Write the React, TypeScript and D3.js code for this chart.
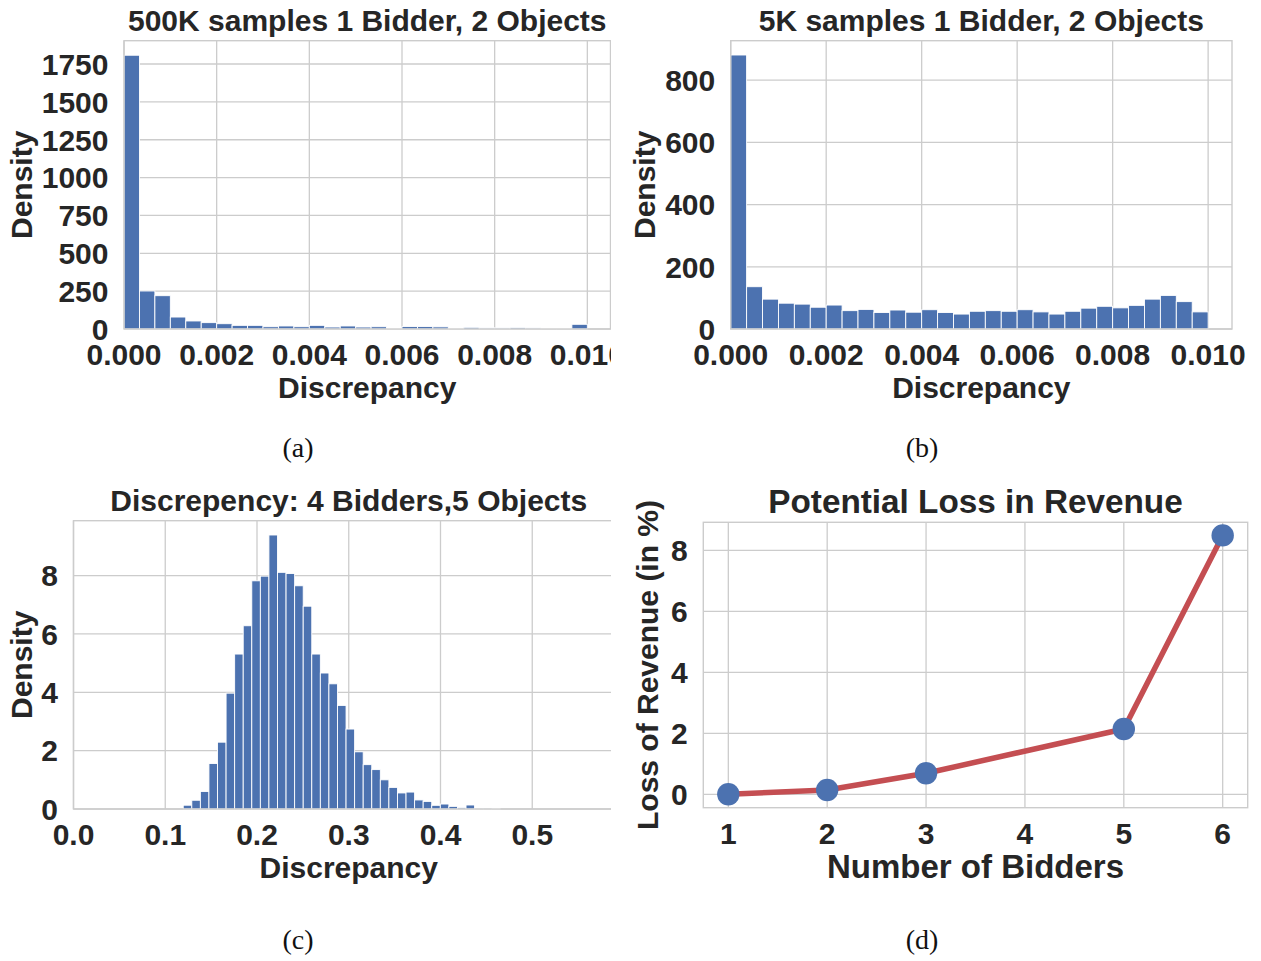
import React from "react";
import * as d3 from "d3";

// ---------- data ----------
// (a) 500K samples, 30 bins over [0, 0.01]
const histA: number[] = [1808, 251, 220, 79, 53, 42, 35, 24, 24, 15, 20, 15, 24, 13, 20, 13, 15, 6, 16, 16, 14, 5, 11, 7, 7, 9, 7, 4, 4, 31];
// (b) 5K samples, 30 bins over [0, 0.01]
const histB: number[] = [881, 136, 96, 83, 80, 70, 77, 59, 63, 53, 61, 54, 62, 53, 48, 57, 59, 57, 62, 55, 48, 57, 67, 73, 68, 76, 96, 108, 88, 55];
// (c) 4 bidders, 5 objects
const histC: number[] = [0.13, 0.3, 0.6, 1.56, 2.29, 3.97, 5.31, 6.28, 7.82, 7.98, 9.39, 8.11, 8.07, 7.65, 6.95, 5.31, 4.66, 4.29, 3.55, 2.74, 1.96, 1.52, 1.35, 1.0, 0.74, 0.55, 0.58, 0.31, 0.26, 0.126, 0.17, 0.09, 0.046, 0.137, 0.01, 0.006, 0.03];
const histABinStart = 0;
const histABinWidth = 0.01 / 30;
const histCBinStart = 0.1196;
const histCBinWidth = 0.00934;

// (d) potential loss in revenue
const bidders: number[] = [1, 2, 3, 5, 6];
const lossPct: number[] = [0.0, 0.14, 0.69, 2.14, 8.49];

const ticksA: number[] = [0, 250, 500, 750, 1000, 1250, 1500, 1750];
const ticksB: number[] = [0, 200, 400, 600, 800];
const ticksCy: number[] = [0, 2, 4, 6, 8];
const ticksDisc: number[] = [0, 0.002, 0.004, 0.006, 0.008, 0.01];
const ticksCx: number[] = [0, 0.1, 0.2, 0.3, 0.4, 0.5];
const ticksDx: number[] = [1, 2, 3, 4, 5, 6];
const ticksDy: number[] = [0, 2, 4, 6, 8];

// ---------- style ----------
const FONT = "'Liberation Sans', Arial, Helvetica, sans-serif";
const FS = 30;
const TXT = "#262626";
const GRID = "#cccccc";
const BAR = "#4C72B0";
const LINE = "#C44E52";

type PanelProps = {
  x0: number; x1: number; y0: number; y1: number;
  xDomain: [number, number]; yDomain: [number, number];
  xTicks: number[]; yTicks: number[];
  xFmt: (v: number) => string; yFmt: (v: number) => string;
  title: string; xLabel: string; yLabel: string; yLabelX: number;
  titleSize?: number; xLabelSize?: number; titleY?: number; xLabelY?: number;
  clipId?: string;
  children: (x: d3.ScaleLinear<number, number>, y: d3.ScaleLinear<number, number>) => React.ReactNode;
};

function Panel(p: PanelProps) {
  const x = d3.scaleLinear().domain(p.xDomain).range([p.x0, p.x1]);
  const y = d3.scaleLinear().domain(p.yDomain).range([p.y1, p.y0]);
  const cx = (p.x0 + p.x1) / 2;
  const cy = (p.y0 + p.y1) / 2;
  return (
    <g clipPath={p.clipId ? `url(#${p.clipId})` : undefined} fontFamily={FONT} fontWeight="bold" fill={TXT}>
      <rect x={p.x0} y={p.y0} width={p.x1 - p.x0} height={p.y1 - p.y0} fill="white" />
      {p.xTicks.map((t) => (
        <line key={"gx" + t} x1={x(t)} x2={x(t)} y1={p.y0} y2={p.y1} stroke={GRID} strokeWidth={1.3} />
      ))}
      {p.yTicks.map((t) => (
        <line key={"gy" + t} x1={p.x0} x2={p.x1} y1={y(t)} y2={y(t)} stroke={GRID} strokeWidth={1.3} />
      ))}
      {p.children(x, y)}
      <rect x={p.x0} y={p.y0} width={p.x1 - p.x0} height={p.y1 - p.y0} fill="none" stroke={GRID} strokeWidth={1.4} />
      {p.xTicks.map((t) => (
        <text key={"tx" + t} x={x(t)} y={p.y1 + 36} textAnchor="middle" fontSize={FS}>{p.xFmt(t)}</text>
      ))}
      {p.yTicks.map((t) => (
        <text key={"ty" + t} x={p.x0 - 15.5} y={y(t)} dy="0.36em" textAnchor="end" fontSize={FS}>{p.yFmt(t)}</text>
      ))}
      <text x={cx} y={p.titleY ?? p.y0 - 9.5} textAnchor="middle" fontSize={p.titleSize ?? FS}>{p.title}</text>
      <text x={cx} y={p.xLabelY ?? p.y1 + 69} textAnchor="middle" fontSize={p.xLabelSize ?? FS}>{p.xLabel}</text>
      <text transform={`translate(${p.yLabelX},${cy}) rotate(-90)`} textAnchor="middle" fontSize={FS}>{p.yLabel}</text>
    </g>
  );
}

function Bars(props: { vals: number[]; start: number; width: number; x: d3.ScaleLinear<number, number>; y: d3.ScaleLinear<number, number> }) {
  const { vals, start, width, x, y } = props;
  return (
    <g>
      {vals.map((v, i) => {
        const a = x(start + i * width);
        const b = x(start + (i + 1) * width);
        return (
          <rect key={i} x={a} y={y(v)} width={b - a} height={y(0) - y(v)} fill={BAR} stroke="white" strokeWidth={0.9} />
        );
      })}
    </g>
  );
}

const f3 = d3.format(".3f");
const f1 = d3.format(".1f");
const f0 = d3.format("d");

export default function App() {
  const line = d3.line<number>();
  return (
    <svg width={1261} height={961} style={{ position: "absolute", left: 0, top: 0, background: "white" }}>
      <defs>
        <clipPath id="clipLeft">
          <rect x={0} y={0} width={611} height={961} />
        </clipPath>
      </defs>
      <rect x={0} y={0} width={1261} height={961} fill="white" />

      <Panel x0={124} x1={610.5} y0={40.7} y1={329} xDomain={[0, 0.0105]} yDomain={[0, 1904]}
        xTicks={ticksDisc} yTicks={ticksA} xFmt={f3} yFmt={f0}
        title="500K samples 1 Bidder, 2 Objects" xLabel="Discrepancy" yLabel="Density" yLabelX={31.5} clipId="clipLeft">
        {(x, y) => <Bars vals={histA} start={histABinStart} width={histABinWidth} x={x} y={y} />}
      </Panel>

      <Panel x0={730.7} x1={1232} y0={40.7} y1={329} xDomain={[0, 0.0105]} yDomain={[0, 927]}
        xTicks={ticksDisc} yTicks={ticksB} xFmt={f3} yFmt={f0}
        title="5K samples 1 Bidder, 2 Objects" xLabel="Discrepancy" yLabel="Density" yLabelX={655}>
        {(x, y) => <Bars vals={histB} start={histABinStart} width={histABinWidth} x={x} y={y} />}
      </Panel>

      <Panel x0={73.5} x1={624} y0={520.7} y1={809} xDomain={[0, 0.6]} yDomain={[0, 9.88]}
        xTicks={ticksCx} yTicks={ticksCy} xFmt={f1} yFmt={f0}
        title="Discrepency: 4 Bidders,5 Objects" xLabel="Discrepancy" yLabel="Density" yLabelX={31.5} clipId="clipLeft">
        {(x, y) => <Bars vals={histC} start={histCBinStart} width={histCBinWidth} x={x} y={y} />}
      </Panel>

      <Panel x0={703.3} x1={1247.7} y0={522.3} y1={807.7} xDomain={[0.747, 6.253]} yDomain={[-0.44, 8.92]}
        xTicks={ticksDx} yTicks={ticksDy} xFmt={f0} yFmt={f0}
        title="Potential Loss in Revenue" xLabel="Number of Bidders" yLabel="Loss of Revenue (in %)" yLabelX={658}
        titleSize={33.3} xLabelSize={33} titleY={513.3} xLabelY={878.3}>
        {(x, y) => (
          <g>
            <path d={line.x((_, i) => x(bidders[i])).y((v) => y(v))(lossPct) || ""} fill="none" stroke={LINE} strokeWidth={5.5} strokeLinejoin="round" />
            {lossPct.map((v, i) => (
              <circle key={i} cx={x(bidders[i])} cy={y(v)} r={11.2} fill={BAR} />
            ))}
          </g>
        )}
      </Panel>

      <g fontFamily="'Liberation Serif', 'DejaVu Serif', serif" fontSize={28} fill="#111">
        <text x={298} y={457} textAnchor="middle">(a)</text>
        <text x={922} y={457} textAnchor="middle">(b)</text>
        <text x={298} y={949} textAnchor="middle">(c)</text>
        <text x={922} y={949} textAnchor="middle">(d)</text>
      </g>
    </svg>
  );
}
